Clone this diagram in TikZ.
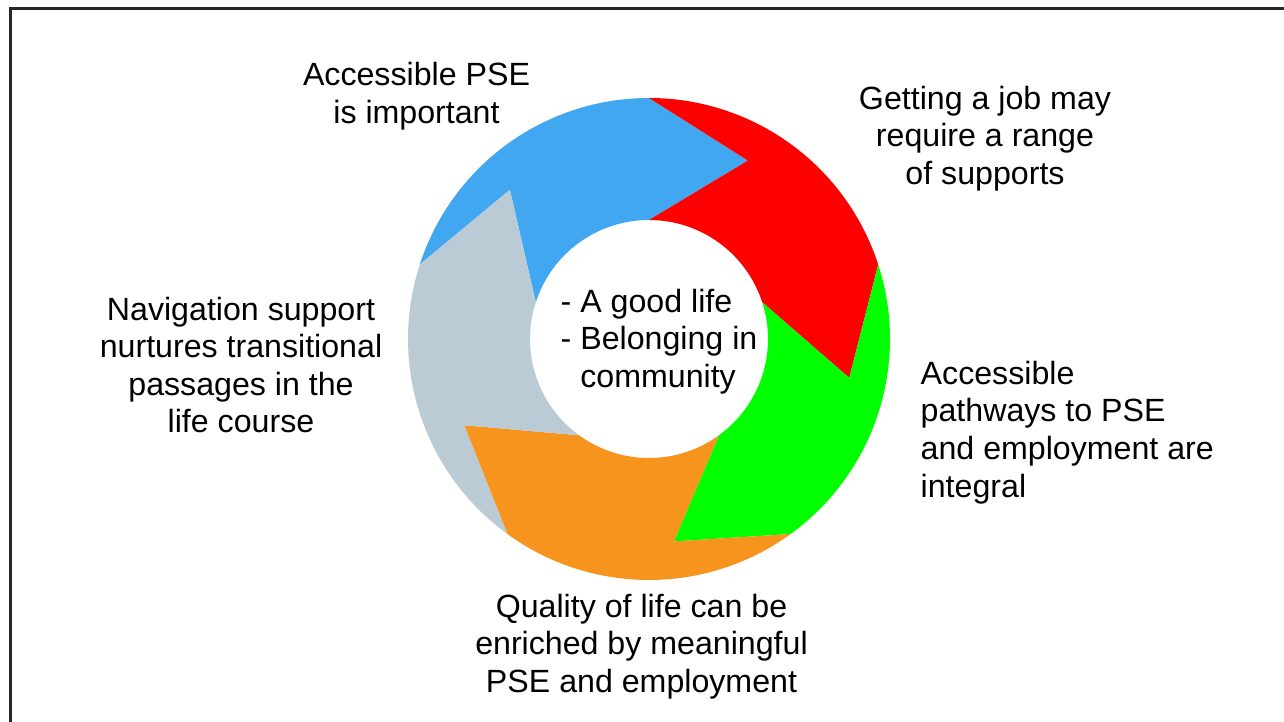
\documentclass[tikz,border=0pt]{standalone}
\usepackage{fontspec}
\setmainfont{Liberation Sans}
\usepackage{tikz}

\definecolor{segblue}{HTML}{42A7F1}
\definecolor{segred}{HTML}{FF0000}
\definecolor{seggreen}{HTML}{00FF00}
\definecolor{segorange}{HTML}{F7941E}
\definecolor{seggray}{HTML}{BBCBD5}

\begin{document}
\begin{tikzpicture}[x=0.1mm, y=0.1mm,
    every node/.style={inner sep=0pt, font=\fontsize{9.15}{10.7}\selectfont}]
    \useasboundingbox (0,0) rectangle (1284,722);
    \draw[line width=0.3mm, black!85, line join=miter] (10.5,0) -- (10.5,713.5) -- (1284,713.5);

    \begin{scope}[shift={(649,383)}]
    \fill[segblue] (162:241) arc[start angle=162, end angle=90, radius=241] -- (61:204)
        -- (90:119) arc[start angle=90, end angle=162, radius=119] -- (133:204) -- cycle;
    \fill[segred] (90:241) arc[start angle=90, end angle=18, radius=241] -- (-11:204)
        -- (18:119) arc[start angle=18, end angle=90, radius=119] -- (61:204) -- cycle;
    \fill[seggreen] (18:241) arc[start angle=18, end angle=-54, radius=241] -- (-83:204)
        -- (-54:119) arc[start angle=-54, end angle=18, radius=119] -- (-11:204) -- cycle;
    \fill[segorange] (-54:241) arc[start angle=-54, end angle=-126, radius=241] -- (-155:204)
        -- (-126:119) arc[start angle=-126, end angle=-54, radius=119] -- (-83:204) -- cycle;
    \fill[seggray] (234:241) arc[start angle=234, end angle=162, radius=241] -- (133:204)
        -- (162:119) arc[start angle=162, end angle=234, radius=119] -- (205:204) -- cycle;
    \end{scope}

    \node[anchor=west, align=left] (LIFE) at (560,380.5) {- A good life\\- Belonging in\\\hphantom{- }community};

    \node[align=center] (PSE) at (416.5,626) {Accessible PSE\\is important};
    \node[align=center] (JOB) at (985,583.5) {Getting a job may\\require a range\\of supports};
    \node[anchor=west, align=left] (PATH) at (920,289.5) {Accessible\\pathways to PSE\\and employment are\\integral};
    \node[align=center] (QOL) at (641.5,75.5) {Quality of life can be\\enriched by meaningful\\PSE and employment};
    \node[align=center] (NAV) at (241,357) {Navigation support\\nurtures transitional\\passages in the\\life course};
\end{tikzpicture}
\end{document}
